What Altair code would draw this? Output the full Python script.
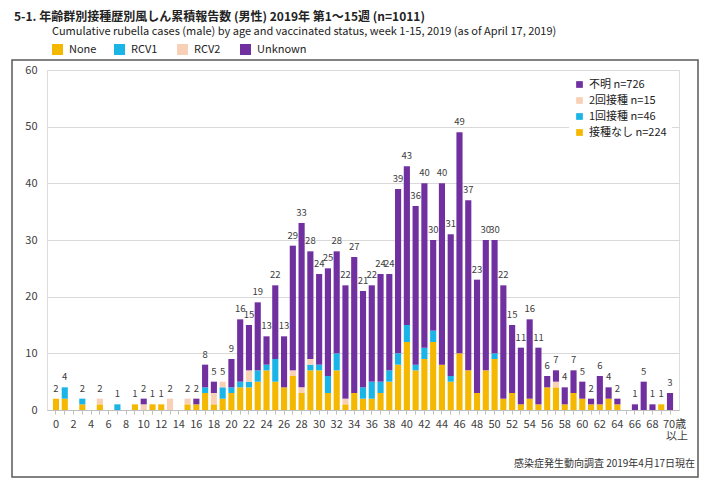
import altair as alt
import pandas as pd

# ---------------- data ----------------
ages = list(range(0, 71))

none_vals = [2, 2, 0, 1, 0, 1, 0, 0, 0, 1, 0, 1, 1, 0, 0, 1, 1,
             3, 1, 2, 3, 4, 4, 5, 7, 5, 4,
             6, 3, 7, 7, 3, 7, 1, 3, 2, 2, 3, 5,
             8, 12, 7, 9, 12, 8, 5, 10, 7, 3, 7, 9,
             2, 3, 1, 2, 1, 4, 4, 1, 3, 2, 1, 1, 2, 1, 0, 0, 0, 0, 1, 0]
rcv1_vals = [0, 2, 0, 1, 0, 0, 0, 1, 0, 0, 0, 0, 0, 0, 0, 0, 0,
             1, 0, 2, 1, 1, 1, 2, 1, 4, 0,
             0, 0, 1, 1, 3, 3, 0, 0, 2, 3, 2, 2,
             2, 3, 1, 2, 2, 0, 1, 0, 0, 0, 0, 1,
             0, 0, 0, 0, 0, 0, 0, 0, 0, 0, 0, 0, 0, 0, 0, 0, 0, 0, 0, 0]
rcv2_vals = [0, 0, 0, 0, 0, 1, 0, 0, 0, 0, 1, 0, 0, 2, 0, 1, 0,
             0, 2, 1, 0, 0, 2, 0, 0, 0, 0,
             1, 1, 1, 0, 0, 0, 1, 0, 0, 0, 0, 0,
             0, 0, 0, 0, 0, 0, 0, 0, 0, 0, 0, 0,
             0, 0, 0, 0, 0, 0, 1, 0, 0, 0, 0, 0, 0, 0, 0, 0, 0, 0, 0, 0]
unknown_vals = [0, 0, 0, 0, 0, 0, 0, 0, 0, 0, 1, 0, 0, 0, 0, 0, 1,
                4, 2, 0, 5, 11, 8, 12, 5, 13, 9,
                22, 29, 19, 16, 19, 18, 20, 24, 17, 17, 19, 17,
                29, 28, 28, 29, 16, 32, 25, 39, 30, 20, 23, 20,
                20, 12, 10, 14, 10, 2, 2, 3, 4, 3, 1, 5, 2, 1, 0, 1, 5, 1, 0, 3]

statuses = ["None", "RCV1", "RCV2", "Unknown"]
colors = ["#F5B800", "#1BB4E6", "#F8D0B6", "#7030A0"]
legend_labels = {"Unknown": "不明 n=726", "RCV2": "2回接種 n=15",
                 "RCV1": "1回接種 n=46", "None": "接種なし n=224"}

last_age_label = ["70歳", "以上"]

title_text = "5-1. 年齢群別接種歴別風しん累積報告数 (男性)  2019年 第1～15週 (n=1011)"
subtitle_text = ("Cumulative rubella cases (male) by age and vaccinated status, "
                 "week 1-15, 2019 (as of April 17, 2019)")
footer_text = "感染症発生動向調査 2019年4月17日現在"

# ---------------- tables ----------------
series = [none_vals, rcv1_vals, rcv2_vals, unknown_vals]
rows = []
for k, (s, vals) in enumerate(zip(statuses, series)):
    for a, v in zip(ages, vals):
        rows.append({"age": a, "status": s, "count": v, "ord": k})
long_df = pd.DataFrame(rows)

totals_df = pd.DataFrame({"age": ages,
                          "total": [sum(t) for t in zip(*series)]})
totals_df = totals_df[totals_df["total"] > 0]

FONT = "Noto Sans CJK JP"
W, H = 632, 340
OX, OY = 47, 70  # plot origin in page coordinates


def px(x):
    return x - OX


def py(y):
    return y - OY


x_enc = alt.X("age:O",
              scale=alt.Scale(paddingInner=0.3, paddingOuter=0.675),
              axis=alt.Axis(title=None, labelAngle=0, labelFontSize=11,
                            labelColor="#404040", labelFont=FONT,
                            domainColor="#bfbfbf", tickColor="#bfbfbf",
                            tickSize=4, labelOverlap=False, labelPadding=4,
                            labelExpr="datum.value % 2 == 0 && datum.value != 70 ? datum.label : ''"))

legend_expr = " : ".join(
    [f"datum.value == '{k}' ? '{v}'" for k, v in legend_labels.items()]) + " : datum.label"

bars = alt.Chart(long_df).mark_bar().encode(
    x=x_enc,
    y=alt.Y("sum(count):Q",
            scale=alt.Scale(domain=[0, 60], nice=False),
            axis=alt.Axis(title=None, values=[0, 10, 20, 30, 40, 50, 60],
                          grid=True, gridColor="#d9d9d9", domain=False,
                          ticks=False, labelFontSize=11, labelColor="#404040",
                          labelPadding=10, labelFont=FONT)),
    color=alt.Color("status:N",
                    scale=alt.Scale(domain=["Unknown", "RCV2", "RCV1", "None"],
                                    range=[colors[3], colors[2], colors[1], colors[0]]),
                    legend=alt.Legend(title=None, orient="none", legendX=522,
                                      legendY=4, symbolType="square",
                                      symbolSize=45, symbolStrokeWidth=0,
                                      labelFontSize=11, labelFont=FONT,
                                      labelColor="#222222", rowPadding=4,
                                      padding=5, fillColor="white",
                                      labelExpr=legend_expr)),
    order=alt.Order("ord:Q", sort="ascending"),
)

labels = alt.Chart(totals_df).mark_text(
    baseline="bottom", dy=-5, fontSize=9.5, color="#404040", font=FONT
).encode(x="age:O", y="total:Q", text="total:Q")

last_df = pd.DataFrame({"age": [70, 70], "t": last_age_label, "line": [0, 1]})
last_label = alt.Chart(last_df).mark_text(
    align="left", baseline="middle", fontSize=11, color="#404040", font=FONT, dx=-6
).encode(x="age:O", y=alt.value(H + 15), yOffset=alt.YOffset("line:Q", scale=None), text="t:N")

one = pd.DataFrame({"a": [0]})


def text_layer(txt, x, y, size, weight="normal", align="left", color="#222222", font=FONT):
    return alt.Chart(one).mark_text(
        text=txt, align=align, baseline="middle", fontSize=size,
        fontWeight=weight, color=color, font=font
    ).encode(x=alt.value(px(x)), y=alt.value(py(y)))


def rect_layer(x1, y1, x2, y2, fill):
    return alt.Chart(one).mark_rect(color=fill).encode(
        x=alt.value(px(x1)), x2=alt.value(px(x2)),
        y=alt.value(py(y1)), y2=alt.value(py(y2)))


frame = alt.Chart(one).mark_rect(fillOpacity=0, stroke="#595959",
                                 strokeWidth=1.5).encode(
    x=alt.value(px(12)), x2=alt.value(px(698)),
    y=alt.value(py(60)), y2=alt.value(py(477)))

deco = [
    text_layer(title_text, 14, 17, 12, weight="bold"),
    text_layer(subtitle_text, 52, 32, 11),
    rect_layer(52, 44, 63, 55, colors[0]), text_layer("None", 69, 50, 11),
    rect_layer(114, 44, 125, 55, colors[1]), text_layer("RCV1", 131, 50, 11),
    rect_layer(177, 44, 188, 55, colors[2]), text_layer("RCV2", 194, 50, 11),
    rect_layer(240, 44, 251, 55, colors[3]), text_layer("Unknown", 257, 50, 11),
    text_layer(footer_text, 695, 464, 10, align="right", color="#333333"),
    frame,
]

chart = alt.layer(bars, labels, *deco).resolve_scale(
    color="independent"
).properties(
    width=W, height=H,
    autosize=alt.AutoSizeParams(type="none"),
    padding={"left": 39, "top": 62, "right": 33, "bottom": 71},
).configure_view(stroke=None).configure(font=FONT)

chart = alt.layer(bars, labels, *deco).properties(
    width=W, height=H,
    autosize=alt.AutoSizeParams(type="none"),
    padding={"left": 39, "top": 62, "right": 33, "bottom": 71},
)

# "70歳 / 以上" drawn as two text lines under the last bar
last_top = alt.Chart(last_df[last_df["line"] == 0]).mark_text(
    align="left", baseline="middle", fontSize=11, color="#404040", font=FONT, dx=-7
).encode(x="age:O", y=alt.value(H + 15), text="t:N")
last_bottom = alt.Chart(last_df[last_df["line"] == 1]).mark_text(
    align="left", baseline="middle", fontSize=11, color="#404040", font=FONT, dx=-4
).encode(x="age:O", y=alt.value(H + 27), text="t:N")

chart = alt.layer(bars, labels, last_top, last_bottom, *deco).properties(
    width=W, height=H,
    autosize=alt.AutoSizeParams(type="none"),
    padding={"left": 39, "top": 62, "right": 33, "bottom": 71},
).configure_view(stroke=None).configure(font=FONT)

chart.save("out.html", embed_options={"renderer": "svg", "actions": False})
